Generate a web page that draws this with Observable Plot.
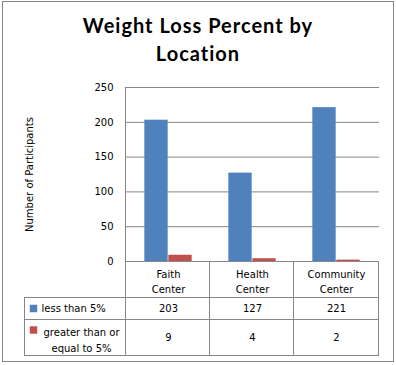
<!DOCTYPE html>
<html><head><meta charset="utf-8">
<script src="https://cdn.jsdelivr.net/npm/d3@7"></script>
<script src="https://cdn.jsdelivr.net/npm/@observablehq/plot@0.6"></script>
<style>
body{margin:0;background:#fff;}
#wrap{position:relative;width:396px;height:365px;overflow:hidden;background:#fff;}
#chart{position:absolute;left:0;top:0;}
#border{position:absolute;left:2px;top:1px;width:392px;height:361px;box-sizing:border-box;border:1px solid #868686;pointer-events:none;}
.tl{position:absolute;left:0;width:396px;text-align:center;font-family:Lato,"Liberation Sans",sans-serif;font-weight:bold;font-size:20px;letter-spacing:1px;line-height:28px;color:#000;white-space:nowrap;}
</style></head>
<body>
<div id="wrap">
  <div id="chart"></div>
  <div class="tl" id="t1" style="top:11px">Weight Loss Percent by</div>
  <div class="tl" id="t2" style="top:39px">Location</div>
  <div id="border"></div>
</div>
<script>
const locations = ["Faith Center", "Health Center", "Community Center"];
const series = ["less than 5%", "greater than or equal to 5%"];
const seriesLabels = ["less than 5%", "greater than or\nequal to 5%"];
const lessThan5 = [203, 127, 221];
const atLeast5 = [9, 4, 2];
const yTicks = [0, 50, 100, 150, 200, 250];
const colors = ["#4F81BD", "#C0504D"];
const yLabel = "Number of Participants";

const values = [lessThan5, atLeast5];
const data = series.flatMap((s, i) => locations.map((l, j) => ({location: l, series: s, value: values[i][j]})));

const W = 396, H = 365;
const mL = 125, mR = 17, mT = 87, mB = 104;
const gridColor = "#868686";
const bandW = (W - mL - mR) / locations.length;
const barW = 24;
const inset = (bandW - barW) / 2;

// table layout (pixels below the category axis)
const headerH = 36, rowH = [22, 36];
const tableLeft = 24;

const tableLines = (index, scales, vals, dim) => {
  const {width, height, marginLeft, marginRight, marginTop, marginBottom} = dim;
  const x = scales.x;
  const y0 = height - marginBottom;
  const right = width - marginRight;
  const r1 = y0 + headerH, r2 = r1 + rowH[0], r3 = r2 + rowH[1];
  const g = d3.create("svg:g").attr("stroke", gridColor).attr("stroke-width", 1).attr("fill", "none");
  const h = (x1, x2, y) => g.append("line").attr("x1", x1).attr("x2", x2).attr("y1", Math.round(y) + 0.5).attr("y2", Math.round(y) + 0.5);
  const v = (xx, y1, y2) => g.append("line").attr("x1", Math.round(xx) + 0.5).attr("x2", Math.round(xx) + 0.5).attr("y1", y1).attr("y2", y2);
  v(marginLeft, marginTop, r3 + 1);
  locations.forEach((l, i) => {
    const xr = i < locations.length - 1 ? x(locations[i + 1]) : right;
    v(Math.round(xr) - 1, y0, r3 + 1);
  });
  [r1, r2, r3].forEach(y => h(tableLeft, right, y));
  v(tableLeft, r1, r3 + 1);
  return g.node();
};

const T = {fill: "black", textAnchor: "middle", lineAnchor: "middle"};

const marks = [
  Plot.ruleY(yTicks, {stroke: gridColor, strokeWidth: 1}),
  ...series.map((s, i) => Plot.barY(data.filter(d => d.series === s), {
    x: "location", y: "value", fill: "series",
    insetLeft: inset, insetRight: inset, dx: (i - 0.5) * barW
  })),
  tableLines,
  Plot.text([yLabel], {...T, frameAnchor: "left", rotate: -90, dx: -96, text: d => d}),
  // header row
  Plot.text(locations, {...T, x: d => d, text: d => d.replace(" ", "\n"), frameAnchor: "bottom", dy: 19, lineHeight: 1.54}),
  // value rows
  ...series.map((s, i) => Plot.text(data.filter(d => d.series === s), {
    ...T, x: "location", text: d => String(d.value), frameAnchor: "bottom", dy: i === 0 ? 47.5 : 76.5
  })),
  // legend keys
  ...series.map((s, i) => Plot.dot([s], {
    frameAnchor: "bottom-left", dx: -92, dy: i === 0 ? 47 : 68.5,
    symbol: "square", r: 4.2, fill: d => d, stroke: null
  })),
  Plot.text([seriesLabels[0]], {...T, frameAnchor: "bottom-left", dx: -84, dy: 47.5, textAnchor: "start", text: d => d}),
  Plot.text([seriesLabels[1]], {...T, frameAnchor: "bottom-left", dx: -44, dy: 77, text: d => d, lineHeight: 1.62})
];

const chart = Plot.plot({
  width: W, height: H,
  marginLeft: mL, marginRight: mR, marginTop: mT, marginBottom: mB,
  style: {fontFamily: "DejaVu Sans", fontSize: "10px", background: "transparent", color: "black", overflow: "visible"},
  x: {domain: locations, padding: 0, axis: null},
  y: {domain: [0, 250], ticks: yTicks, tickSize: 0, tickPadding: 12, label: null, tickFormat: d => String(d)},
  color: {domain: series, range: colors},
  marks
});
document.getElementById("chart").appendChild(chart);
</script>
</body></html>
